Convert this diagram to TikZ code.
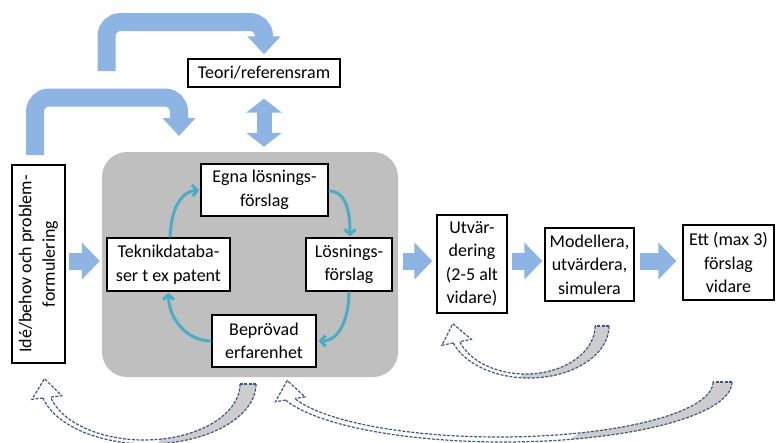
\documentclass[tikz,border=0pt]{standalone}
\usepackage{fontspec}
\setmainfont{Carlito}
\usetikzlibrary{arrows.meta,calc}
\definecolor{bluearrow}{RGB}{142,180,227}
\definecolor{cyclecol}{RGB}{75,172,198}
\definecolor{boxgray}{RGB}{191,191,191}
\definecolor{crescentgray}{RGB}{205,205,205}
\definecolor{dashblue}{RGB}{60,88,130}
\newcommand\curlarrow[9]{%
  % #1 cx outer, #2 a outer, #3 b outer, #4 cx inner, #5 a inner, #6 b inner, #7 top, #8 end angle, #9 gray end angle
  \fill[crescentgray] plot[domain=0:#9+5,samples=30] ({#1+#2*cos(\x)},{#7+#3*sin(\x)})
     -- plot[domain=#9:0,samples=30] ({#4+#5*cos(\x)},{#7+#6*sin(\x)}) -- cycle;
  \draw[dsh] plot[domain=0:#8,samples=70] ({#1+#2*cos(\x)},{#7+#3*sin(\x)});
  \draw[dsh] plot[domain=0:#8,samples=70] ({#4+#5*cos(\x)},{#7+#6*sin(\x)});
  \draw[dsh] ({#1+#2},#7) -- ({#4+#5},#7);
  \coordinate (cPo) at ({#1+#2*cos(#8)},{#7+#3*sin(#8)});
  \coordinate (cPi) at ({#4+#5*cos(#8)},{#7+#6*sin(#8)});
  \coordinate (cM) at ($(cPo)!0.5!(cPi)$);
  \draw[dsh,fill=white] (cPo) -- ($(cM)!15pt!(cPo)$) -- ($(cM)!19pt!-90:(cPo)$) -- ($(cM)!15pt!(cPi)$) -- (cPi);
}
\begin{document}
\begin{tikzpicture}[x=1pt,y=-1pt,
  font=\fontsize{18}{23.5}\selectfont,
  box/.style={draw=black,line width=1.3pt,fill=white,align=center,inner sep=0pt},
  blk/.style={draw=bluearrow,line width=17pt,-{Triangle[length=18pt,width=36pt]}},
  bentarrow/.style={draw=bluearrow,line width=18pt,rounded corners=14pt,-{Triangle[length=18pt,width=32pt]}},
  dbl/.style={draw=bluearrow,line width=15pt,{Triangle[length=14pt,width=35pt]}-{Triangle[length=14pt,width=35pt]}},
  cyc/.style={draw=cyclecol,line width=3pt,-{Straight Barb[length=5pt,width=11pt]}},
  dsh/.style={draw=dashblue,line width=1.2pt,dash pattern=on 3pt off 1.5pt}]
\useasboundingbox (0,0) rectangle (776,442);

% boxes
\node[box,minimum width=152pt,minimum height=28pt] (teori) at (264,73) {Teori/referensram};
\node[box,rotate=90,minimum width=198pt,minimum height=53pt] (idea) at (38.5,264) {Idé/behov och problem-\\formulering};
\node[fill=boxgray,rounded corners=25pt,minimum width=296pt,minimum height=225pt] (core) at (250,264.5) {};
\node[box,minimum width=127pt,minimum height=52pt] (egna) at (264.5,190) {Egna lösnings-\\förslag};
\node[box,minimum width=123pt,minimum height=53pt] (teknik) at (168.5,264.5) {Teknikdataba-\\ser t ex patent};
\node[box,minimum width=86pt,minimum height=53pt] (losn) at (349,264.5) {Lösnings-\\förslag};
\node[box,minimum width=104pt,minimum height=52pt] (bepr) at (264,341) {Beprövad\\erfarenhet};
\node[box,minimum width=70pt,minimum height=98pt] (utv) at (472,264) {Utvär-\\dering\\(2-5 alt\\vidare)};
\node[box,minimum width=89pt,minimum height=73pt] (mod) at (589.5,264.5) {Modellera,\\utvärdera,\\simulera};
\node[box,minimum width=91pt,minimum height=75pt] (ett) at (728.5,262.5) {Ett (max 3)\\förslag\\vidare};

% straight block arrows
\coordinate (lvl) at (0,261);
\draw[blk] ([xshift=3pt]idea.south |- lvl) -- ([xshift=-2pt]core.west |- lvl);
\draw[blk] ([xshift=5pt]core.east |- lvl) -- ([xshift=-4pt]utv.west |- lvl);
\draw[blk] ([xshift=4pt]utv.east |- lvl) -- ([xshift=-2pt]mod.west |- lvl);
\draw[blk] ([xshift=5pt]mod.east |- lvl) -- ([xshift=-6pt]ett.west |- lvl);

% bent block arrows
\coordinate (lowstart) at (35,155);
\coordinate (lowtip) at (179,136);
\draw[bentarrow] (lowstart) -- (35,97.5) -- (179,97.5) -- (lowtip);
\coordinate (upstart) at (106.5,71);
\draw[bentarrow] (upstart) -- (106.5,22) -- (264,22) -- ([yshift=4pt]teori.north);

% double arrow
\draw[dbl] ([yshift=-11pt]teori.south) -- ([yshift=5pt]teori.south |- core.north);

% cycle
\draw[cyc] ([xshift=1.5pt]teknik.north) to[out=88,in=185] ([xshift=-1pt]egna.west);
\draw[cyc] ([yshift=-1pt]egna.east) to[out=0,in=90] ([xshift=1pt,yshift=1pt]losn.north);
\draw[cyc] (losn.south) to[out=-90,in=0] ([xshift=2pt]bepr.east);
\draw[cyc] (bepr.west) to[out=180,in=-90] ([yshift=-1pt]teknik.south);

% dashed curved arrows
\curlarrow{529}{80}{52}{525.5}{69.5}{48}{326}{161}{92}
\curlarrow{148}{108}{60}{144}{96}{56}{384}{166.5}{80}
\curlarrow{503.5}{228.5}{60}{499}{214}{55}{382}{162.5}{68}
\end{tikzpicture}
\end{document}
